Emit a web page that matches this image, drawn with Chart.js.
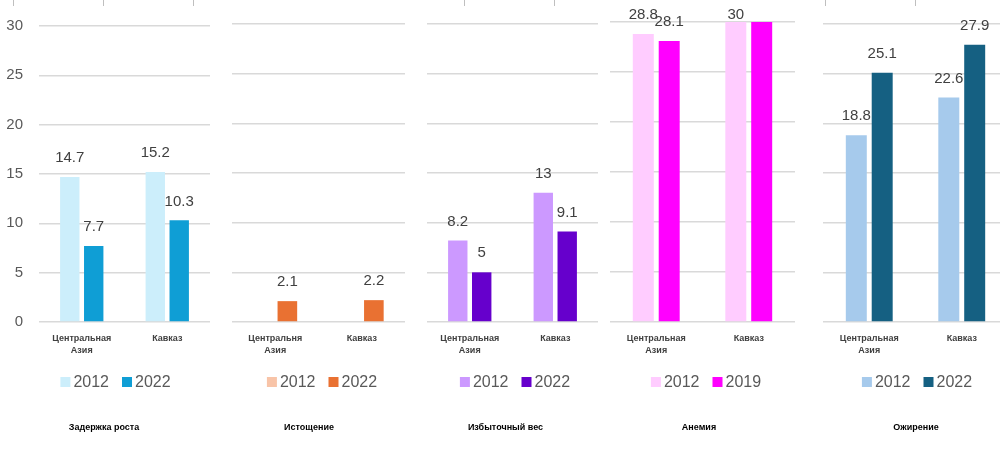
<!DOCTYPE html>
<html>
<head>
<meta charset="utf-8">
<script src="https://cdn.jsdelivr.net/npm/chart.js@4"></script>
<style>
  html, body { margin: 0; padding: 0; background: #ffffff; overflow: hidden; width: 1000px; height: 452px; }
  .panel { position: absolute; top: 0; }
  .mark { position: absolute; top: 0; width: 1px; height: 6px; background: #BFBFBF; }
</style>
</head>
<body>
<div id="marks"></div>
<div class="panel" style="left:0px"><canvas id="c1" width="215" height="452"></canvas></div>
<div class="panel" style="left:215px"><canvas id="c2" width="195" height="452"></canvas></div>
<div class="panel" style="left:410px"><canvas id="c3" width="195" height="452"></canvas></div>
<div class="panel" style="left:605px"><canvas id="c4" width="200" height="452"></canvas></div>
<div class="panel" style="left:805px"><canvas id="c5" width="220" height="452"></canvas></div>
<script>
// ---- data ----
const categories = [['Центральная', 'Азия'], 'Кавказ'];
const categoriesWasting = [['Центральня', 'Азия'], 'Кавказ'];

const stunting2012 = [14.7, 15.2];
const stunting2022 = [7.7, 10.3];

const wasting2012 = [null, null];
const wasting2022 = [2.1, 2.2];

const overweight2012 = [8.2, 13];
const overweight2022 = [5, 9.1];

const anemia2012 = [28.8, 30];
const anemia2019 = [28.1, 30];
const anemia2019LabelShown = [true, false];

const obesity2012 = [18.8, 22.6];
const obesity2022 = [25.1, 27.9];

const yMin = 0, yMax = 30, yStep = 5;

const panelTitles = ['Задержка роста', 'Истощение', 'Избыточный вес', 'Анемия', 'Ожирение'];
const seriesYears = ['2012', '2022', '2019'];

// ---- rendering ----
const FONT = "'Liberation Sans', Arial, sans-serif";
Chart.defaults.font.family = FONT;

const markXs = [13, 103, 193, 464, 554, 825, 915];
const marksEl = document.getElementById('marks');
markXs.forEach(x => { const d = document.createElement('div'); d.className = 'mark'; d.style.left = x + 'px'; marksEl.appendChild(d); });

const valueLabels = {
  id: 'valueLabels',
  afterDatasetsDraw(chart) {
    const ctx = chart.ctx;
    ctx.save();
    ctx.font = "15px " + FONT;
    ctx.fillStyle = '#404040';
    ctx.textAlign = 'center';
    ctx.textBaseline = 'middle';
    chart.data.datasets.forEach((ds, di) => {
      const meta = chart.getDatasetMeta(di);
      meta.data.forEach((el, i) => {
        const v = ds.data[i];
        if (v === null || v === undefined) return;
        if (ds.labelShown && !ds.labelShown[i]) return;
        const y = Math.max(el.y - 19, 15);
        ctx.fillText(String(v), el.x, y);
      });
    });
    ctx.restore();
  }
};

// legend + panel title drawn below the axis, centred where the original places them
const bottomTexts = {
  id: 'bottomTexts',
  afterDraw(chart, args, opts) {
    const ctx = chart.ctx;
    ctx.save();
    ctx.font = "16px " + FONT;
    ctx.textBaseline = 'middle';
    const box = 10, gapText = 3, gapItem = 13;
    const items = chart.data.datasets.map(ds => ({ label: ds.label, color: ds.backgroundColor, w: ctx.measureText(ds.label).width }));
    let total = 0;
    items.forEach((it, i) => { total += box + gapText + it.w + (i < items.length - 1 ? gapItem : 0); });
    let x = opts.legendX - total / 2;
    const y = 382;
    items.forEach(it => {
      ctx.fillStyle = it.color;
      ctx.fillRect(x, y - box / 2, box, box);
      x += box + gapText;
      ctx.fillStyle = '#595959';
      ctx.textAlign = 'left';
      ctx.fillText(it.label, x, y + 0.5);
      x += it.w + gapItem;
    });
    ctx.font = "bold 9px " + FONT;
    ctx.fillStyle = '#000000';
    ctx.textAlign = 'center';
    ctx.fillText(opts.title, opts.titleX, 428);
    ctx.restore();
  }
};

function makePanel(id, cats, sets, title, showY, pad, legendX, titleX) {
  new Chart(document.getElementById(id), {
    type: 'bar',
    data: {
      labels: cats,
      datasets: sets.map(s => ({
        label: s.label,
        data: s.data,
        backgroundColor: s.color,
        borderWidth: 0,
        categoryPercentage: 0.56,
        barPercentage: 0.81,
        labelShown: s.labelShown
      }))
    },
    options: {
      responsive: false,
      animation: false,
      layout: { padding: { left: pad.l, right: pad.r, top: pad.t, bottom: 90 } },
      scales: {
        x: {
          grid: { display: false },
          border: { display: false },
          ticks: { font: { size: 9, weight: 'bold', lineHeight: 1.4 }, color: '#404040', padding: 2, maxRotation: 0, autoSkip: false },
          afterFit: s => { s.height = 40; }
        },
        y: {
          min: yMin, max: yMax,
          ticks: { stepSize: yStep, display: showY, padding: 16, font: { size: 15 }, color: '#595959' },
          grid: { color: '#D9D9D9', lineWidth: 1.5, drawTicks: false },
          border: { display: false },
          afterFit: s => { s.width = showY ? 39 : 0; }
        }
      },
      plugins: {
        legend: { display: false },
        title: { display: false },
        tooltip: { enabled: false },
        bottomTexts: { legendX: legendX, titleX: titleX, title: title }
      }
    },
    plugins: [valueLabels, bottomTexts]
  });
}

makePanel('c1', categories, [
  { label: seriesYears[0], data: stunting2012, color: '#CCEEFB' },
  { label: seriesYears[1], data: stunting2022, color: '#0F9ED5' }
], panelTitles[0], true, { l: 0, r: 5, t: 26 }, 115.5, 104);

makePanel('c2', categoriesWasting, [
  { label: seriesYears[0], data: wasting2012, color: '#F8C4A8' },
  { label: seriesYears[1], data: wasting2022, color: '#E97132' }
], panelTitles[1], false, { l: 17, r: 5, t: 24 }, 107, 94);

makePanel('c3', categories, [
  { label: seriesYears[0], data: overweight2012, color: '#CC99FF' },
  { label: seriesYears[1], data: overweight2022, color: '#6600CC' }
], panelTitles[2], false, { l: 17, r: 7, t: 24 }, 105, 95.5);

makePanel('c4', categories, [
  { label: seriesYears[0], data: anemia2012, color: '#FFCCFF' },
  { label: seriesYears[2], data: anemia2019, color: '#FF00FF', labelShown: anemia2019LabelShown }
], panelTitles[3], false, { l: 5, r: 10, t: 22 }, 101, 94);

makePanel('c5', categories, [
  { label: seriesYears[0], data: obesity2012, color: '#A6CAEC' },
  { label: seriesYears[1], data: obesity2022, color: '#156082' }
], panelTitles[4], false, { l: 18, r: 17, t: 24 }, 112, 111);
</script>
</body>
</html>
